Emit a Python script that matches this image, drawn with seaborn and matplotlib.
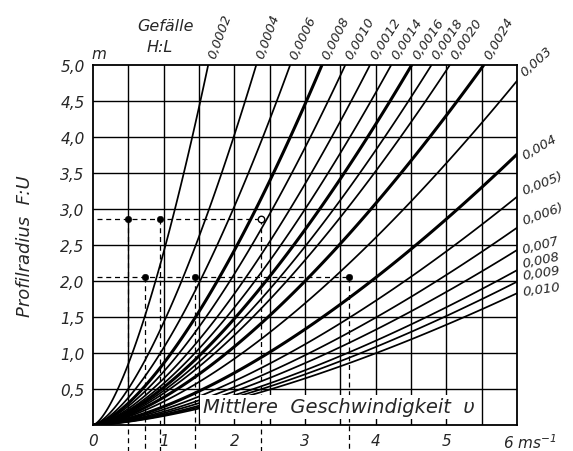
import numpy as np
import pandas as pd
import matplotlib
matplotlib.use("Agg")
import matplotlib.pyplot as plt
import seaborn as sns

# ---- data ----
# curves leaving through the top edge (R = 5.0 m): velocity at the top edge
top_labels = ["0,0002", "0,0004", "0,0006", "0,0008", "0,0010", "0,0012",
              "0,0014", "0,0016", "0,0018", "0,0020", "0,0024"]
top_v_end = [1.63, 2.31, 2.79, 3.24, 3.57, 3.92, 4.22, 4.51, 4.79, 5.05, 5.53]
top_bold = [False, False, False, True, False, False, False, True, False, False, True]

# curves leaving through the right edge (v = 6 m/s): radius at the right edge
right_labels = ["0,003", "0,004", "0,005)", "0,006)", "0,007", "0,008", "0,009", "0,010"]
right_R_end = [4.78, 3.76, 3.17, 2.74, 2.43, 2.15, 1.99, 1.83]
right_bold = [False, True, False, False, False, False, False, False]

# example readings (dashed construction lines)
ex_v = [0.49, 0.95, 0.74, 1.44, 3.62]
ex_R = [2.86, 2.86, 2.05, 2.05, 2.05]
open_v = [2.38]
open_R = [2.86]

x_ticks = [0, 1, 2, 3, 4, 5, 6]
x_ticklabels = ["0", "1", "2", "3", "4", "5", "6"]
y_ticks = [0.5, 1.0, 1.5, 2.0, 2.5, 3.0, 3.5, 4.0, 4.5, 5.0]
y_ticklabels = ["0,5", "1,0", "1,5", "2,0", "2,5", "3,0", "3,5", "4,0", "4,5", "5,0"]

# ---- build curves (R grows with v^(3/2) through the origin) ----
rows = []
for lab, ve, b in zip(top_labels, top_v_end, top_bold):
    v = np.linspace(0, ve, 120)
    rows.append(pd.DataFrame({"v": v, "R": 5.0 * (v / ve) ** 1.5, "slope": lab, "bold": b}))
for lab, Re, b in zip(right_labels, right_R_end, right_bold):
    v = np.linspace(0, 6.0, 120)
    rows.append(pd.DataFrame({"v": v, "R": Re * (v / 6.0) ** 1.5, "slope": lab, "bold": b}))
df = pd.concat(rows, ignore_index=True)

sns.set_theme(style="white")
plt.rcParams["font.family"] = ["DejaVu Sans"]
plt.rcParams["font.style"] = "italic"

fig = plt.figure(figsize=(5.73, 4.52), dpi=100)
ax = fig.add_axes([93 / 573, 26 / 452, 424 / 573, 360 / 452])

# grid
for gx in np.arange(0.5, 6.0, 0.5):
    ax.axvline(gx, color="black", lw=1.0, zorder=1)
for gy in np.arange(0.5, 5.0, 0.5):
    ax.axhline(gy, color="black", lw=1.0, zorder=1)

for lab, sub in df.groupby("slope", sort=False):
    lw = 2.2 if sub["bold"].iloc[0] else 1.25
    sns.lineplot(data=sub, x="v", y="R", ax=ax, color="black", lw=lw,
                 estimator=None, sort=False, legend=False, zorder=3)

# dashed construction lines
dash = dict(color="black", lw=0.9, ls=(0, (4, 3)), zorder=4)
ax.plot([0.05, open_v[0]], [ex_R[0], ex_R[0]], **dash)
ax.plot([0.05, ex_v[4]], [ex_R[2], ex_R[2]], **dash)
for vv, rr in zip(ex_v + open_v, ex_R + open_R):
    ax.plot([vv, vv], [rr, -0.36], clip_on=False, **dash)
sns.scatterplot(x=ex_v, y=ex_R, ax=ax, color="black", s=22, zorder=5, edgecolor="black")
ax.scatter(open_v, open_R, s=22, facecolor="white", edgecolor="black", lw=1, zorder=5)

ax.set_xlim(0, 6)
ax.set_ylim(0, 5)
ax.set_xticks(x_ticks)
ax.set_xticklabels(x_ticklabels[:-1] + [""], fontsize=11, style="italic")
ax.set_yticks(y_ticks)
ax.set_yticklabels(y_ticklabels, fontsize=11, style="italic")
ax.tick_params(length=0, pad=6)
ax.set_xlabel("")
ax.set_ylabel("Profilradius  F:U", fontsize=13, style="italic", labelpad=19)
for sp in ax.spines.values():
    sp.set_color("black")
    sp.set_linewidth(1.3)

# axis unit texts
ax.text(5.8, -0.105, "6 ms$^{-1}$", ha="left", va="top", fontsize=11, style="italic",
        transform=ax.transData, clip_on=False)
ax.text(-0.02, 5.05, "m", ha="left", va="bottom", fontsize=11, style="italic", clip_on=False)

# Mittlere Geschwindigkeit
ax.text(1.55, 0.25, "Mittlere  Geschwindigkeit  υ", ha="left", va="center", fontsize=14,
        style="italic", zorder=6,
        bbox=dict(facecolor="white", edgecolor="none", pad=2))

# Gefälle header
ax.text(1.02, 5.55, "Gefälle", ha="center", va="center", fontsize=11.5, style="italic", clip_on=False)
ax.text(0.95, 5.26, "H:L", ha="center", va="center", fontsize=11.5, style="italic", clip_on=False)

# slope labels
top_rot = [70, 70, 65, 63, 60, 58, 57, 56, 56, 56, 60]
for lab, ve, rot in zip(top_labels, top_v_end, top_rot):
    ax.text(ve + 0.05, 5.1, lab, rotation=rot, rotation_mode="anchor", ha="left", va="center",
            fontsize=9.5, style="italic", clip_on=False)
right_rot = [42, 30, 22, 20, 15, 12, 9, 8]
right_dy = [0.1, -0.03, 0.08, 0.09, 0.01, 0.09, 0.09, 0.03]
for lab, Re, rot, dy in zip(right_labels, right_R_end, right_rot, right_dy):
    ax.text(6.08, Re + dy, lab, rotation=rot, rotation_mode="anchor", ha="left", va="center",
            fontsize=9.5, style="italic", clip_on=False)

fig.savefig("out.png", dpi=100, facecolor="white")
